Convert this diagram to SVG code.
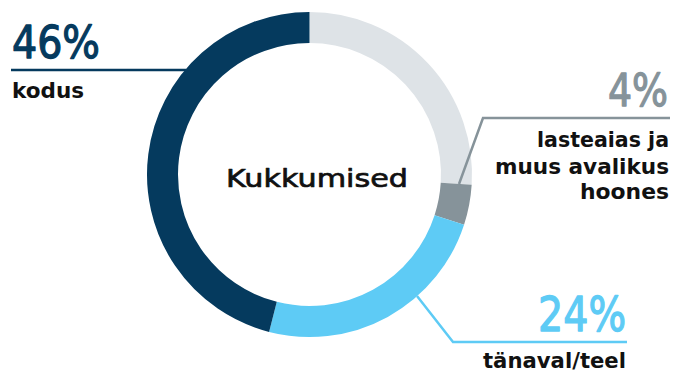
<svg xmlns="http://www.w3.org/2000/svg" width="675" height="372" viewBox="0 0 675 372">
<style>
.seg{fill:none;stroke-width:31;stroke-linecap:butt}
.pct{font-family:"DejaVu Sans","Liberation Sans",sans-serif;font-weight:500;font-size:45px;stroke-width:1.3;stroke-linejoin:round}
.lbl{font-family:"DejaVu Sans","Liberation Sans",sans-serif;font-weight:bold;font-size:21px;fill:#111}
.ctr{font-family:"DejaVu Sans","Liberation Sans",sans-serif;font-weight:500;font-size:25px;fill:#111;stroke:#111;stroke-width:0.7;stroke-linejoin:round}
.con{fill:none;stroke-width:2.5}
</style>
<rect width="675" height="372" fill="#fff"/>
<g id="donut">
<path id="seg-other" class="seg" stroke="#DEE3E7" d="M309.5,27.5 A147,147 0 0 1 456.21,183.73"/>
<path id="seg-lasteaias" class="seg" stroke="#86939A" d="M456.21,183.73 A147,147 0 0 1 449.31,219.93"/>
<path id="seg-tanaval" class="seg" stroke="#5ECBF5" d="M449.31,219.93 A147,147 0 0 1 272.94,316.88"/>
<path id="seg-kodus" class="seg" stroke="#053A5E" d="M272.94,316.88 A147,147 0 0 1 309.5,27.5"/>
</g>
<g id="connectors">
<path class="con" stroke="#053A5E" d="M11,70 H186"/>
<path class="con" stroke="#86939A" d="M670,118 H483 L459,184"/>
<path class="con" stroke="#5ECBF5" d="M627,342 H453 L417,296"/>
</g>
<g id="center">
<text class="ctr" x="226" y="187" textLength="182" lengthAdjust="spacingAndGlyphs">Kukkumised</text>
</g>
<g id="node-kodus">
<text class="pct" x="12" y="58" fill="#053A5E" stroke="#053A5E" textLength="88" lengthAdjust="spacingAndGlyphs">46%</text>
<text class="lbl" x="12" y="98" textLength="72" lengthAdjust="spacingAndGlyphs">kodus</text>
</g>
<g id="node-lasteaias">
<text class="pct" x="668" y="106" fill="#86939A" stroke="#86939A" text-anchor="end" textLength="60" lengthAdjust="spacingAndGlyphs">4%</text>
<text class="lbl" x="669" y="147" text-anchor="end" textLength="132" lengthAdjust="spacingAndGlyphs">lasteaias ja</text>
<text class="lbl" x="669" y="174" text-anchor="end" textLength="174" lengthAdjust="spacingAndGlyphs">muus avalikus</text>
<text class="lbl" x="669" y="199" text-anchor="end" textLength="89" lengthAdjust="spacingAndGlyphs">hoones</text>
</g>
<g id="node-tanaval">
<text class="pct" x="626" y="331" fill="#5ECBF5" stroke="#5ECBF5" text-anchor="end" style="font-size:48px" textLength="88" lengthAdjust="spacingAndGlyphs">24%</text>
<text class="lbl" x="626" y="368" text-anchor="end" textLength="143" lengthAdjust="spacingAndGlyphs">tänaval/teel</text>
</g>
</svg>
